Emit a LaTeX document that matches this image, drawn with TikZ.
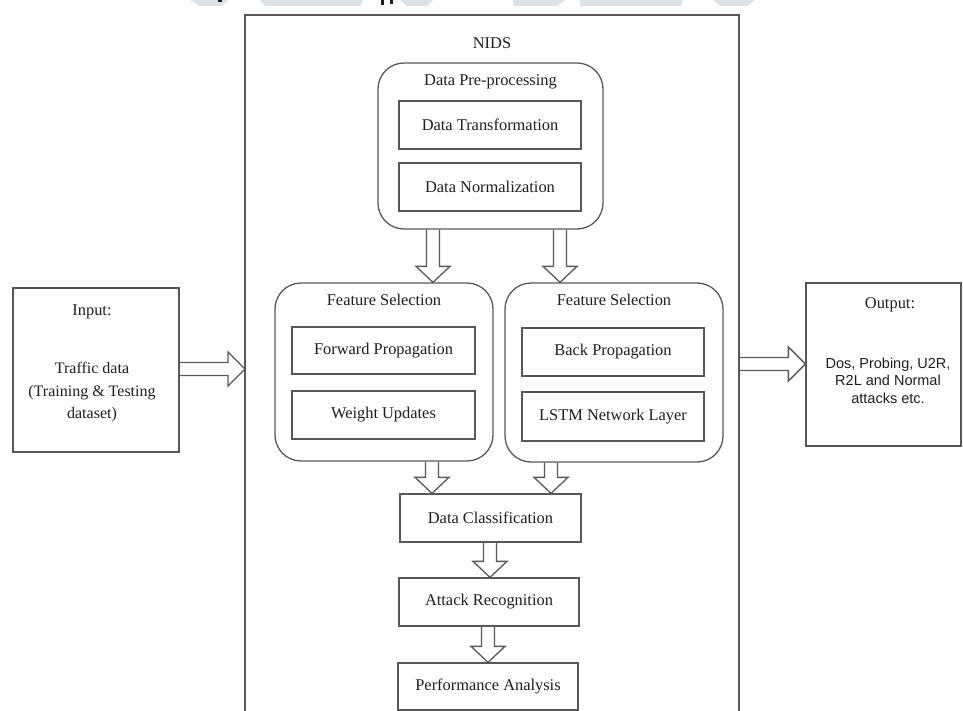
\documentclass[tikz,border=0pt]{standalone}
\usepackage{fontspec}
\setmainfont{Liberation Serif}
\newfontfamily\arialfont{Liberation Sans}
\usetikzlibrary{calc}
\definecolor{linegray}{RGB}{88,88,88}
\definecolor{txtdark}{RGB}{30,30,30}
\definecolor{wmgray}{RGB}{221,226,230}
\tikzset{
  box/.style={draw=linegray, line width=1.3pt, inner sep=0pt, text=txtdark,
    font=\fontsize{16.4}{19}\selectfont},
  rbox/.style={draw=linegray, line width=1.3pt, rounded corners=26pt, inner sep=0pt},
  lbl/.style={inner sep=0pt, text=txtdark, font=\fontsize{16.4}{19}\selectfont},
  blkarrow/.style={draw=linegray, line width=1.3pt, line join=miter},
}
\newcommand{\varrow}[3]{%
  \draw[blkarrow] let \p1=(#1,0 |- #2), \p2=(#1,0 |- #3) in
    ({\x1-6.5pt},{\y1}) -- ({\x1-6.5pt},{\y2+16pt}) -- ({\x1-17pt},{\y2+16pt})
    -- (\x1,\y2) -- ({\x1+17pt},{\y2+16pt}) -- ({\x1+6.5pt},{\y2+16pt})
    -- ({\x1+6.5pt},{\y1});}
\newcommand{\harrow}[3]{%
  \draw[blkarrow] let \p1=(#2 |- 0,#1), \p2=(#3 |- 0,#1) in
    ({\x1},{\y1+6.5pt}) -- ({\x2-17pt},{\y1+6.5pt}) -- ({\x2-17pt},{\y1+17pt})
    -- (\x2,\y1) -- ({\x2-17pt},{\y1-17pt}) -- ({\x2-17pt},{\y1-6.5pt})
    -- ({\x1},{\y1-6.5pt});}
\begin{document}
\begin{tikzpicture}[x=1pt,y=-1pt]
\useasboundingbox (0,0) rectangle (963,711);
% faint watermark remnants at the top edge
\fill[wmgray] (190,0) -- (228,0) -- (222,6) -- (200,6) -- cycle;
\fill[wmgray] (260,0) -- (363,0) -- (360,6) -- (265,6) -- cycle;
\fill[wmgray] (400,0) -- (433,0) -- (427,6) -- (407,6) -- cycle;
\fill[wmgray] (513,0) -- (565,0) -- (557,6) -- (513,6) -- cycle;
\fill[wmgray] (580,0) -- (683,0) -- (681,6) -- (580,6) -- cycle;
\fill[wmgray] (713,0) -- (755,0) -- (747,6) -- (720,6) -- cycle;
\fill[txtdark] (218,0) rectangle (222,2.5);
\fill[txtdark] (381,0) rectangle (383.5,5);
\fill[txtdark] (390,0) rectangle (392.5,4);

% NIDS outer frame (open at the bottom)
\draw[linegray, line width=1.3pt] (245,720) -- (245,15) -- (739,15) -- (739,720);
\node[lbl] (nidst) at (492,43) {NIDS};
\coordinate (nidsL) at (245,369);
\coordinate (nidsR) at (739,364);

% Pre-processing
\node[rbox, minimum width=225pt, minimum height=166pt] (pre) at (490.5,146) {};
\node[lbl] (pret) at (490.5,82) {Data Pre-processing};
\node[box, minimum width=182pt, minimum height=48pt] (dt) at (490,125) {Data Transformation};
\node[box, minimum width=182pt, minimum height=48pt] (dn) at (490,187) {Data Normalization};

% Feature selection left
\node[rbox, minimum width=218pt, minimum height=178pt] (fsl) at (384,372) {};
\node[lbl] (fslt) at (384,300) {Feature Selection};
\node[box, minimum width=183pt, minimum height=47pt] (fp) at (383.5,350.5) {Forward Propagation};
\node[box, minimum width=183pt, minimum height=48pt] (wu) at (383.5,415) {Weight Updates};

% Feature selection right
\node[rbox, minimum width=218pt, minimum height=179pt] (fsr) at (614,372.5) {};
\node[lbl] (fsrt) at (614,300) {Feature Selection};
\node[box, minimum width=182pt, minimum height=48pt] (bp) at (613,352) {Back Propagation};
\node[box, minimum width=182pt, minimum height=49pt] (lstm) at (613,416.5) {LSTM Network Layer};

% Lower chain
\node[box, minimum width=181pt, minimum height=48pt] (dc) at (490.5,518) {Data Classification};
\node[box, minimum width=180pt, minimum height=48pt] (ar) at (489,602) {Attack Recognition};
\node[box, minimum width=180pt, minimum height=47pt] (pa) at (488,686.5) {Performance Analysis};

% Input / Output
\node[box, minimum width=166pt, minimum height=164pt] (in) at (96,370) {};
\node[lbl] (int) at (92,312) {Input:};
\node[lbl, align=center, font=\fontsize{16}{22.5}\selectfont] (inb) at (92,392.5)
  {Traffic data\\(Training \& Testing\\dataset)};
\node[box, minimum width=155pt, minimum height=163pt] (out) at (883.5,364.5) {};
\node[lbl] (outt) at (890,305) {Output:};
\node[lbl, align=center, font=\arialfont\fontsize{14.5}{17.5}\selectfont] (outb) at (888,380.5)
  {Dos, Probing, U2R,\\R2L and Normal\\attacks etc.};

% Block arrows
\varrow{433}{pre.south}{fsl.north}
\varrow{560}{pre.south}{fsr.north}
\varrow{432}{fsl.south}{dc.north}
\varrow{551}{fsr.south}{dc.north}
\varrow{490}{dc.south}{ar.north}
\varrow{488}{ar.south}{pa.north}
\harrow{369}{in.east}{nidsL}
\harrow{364}{nidsR}{out.west}
\end{tikzpicture}
\end{document}
